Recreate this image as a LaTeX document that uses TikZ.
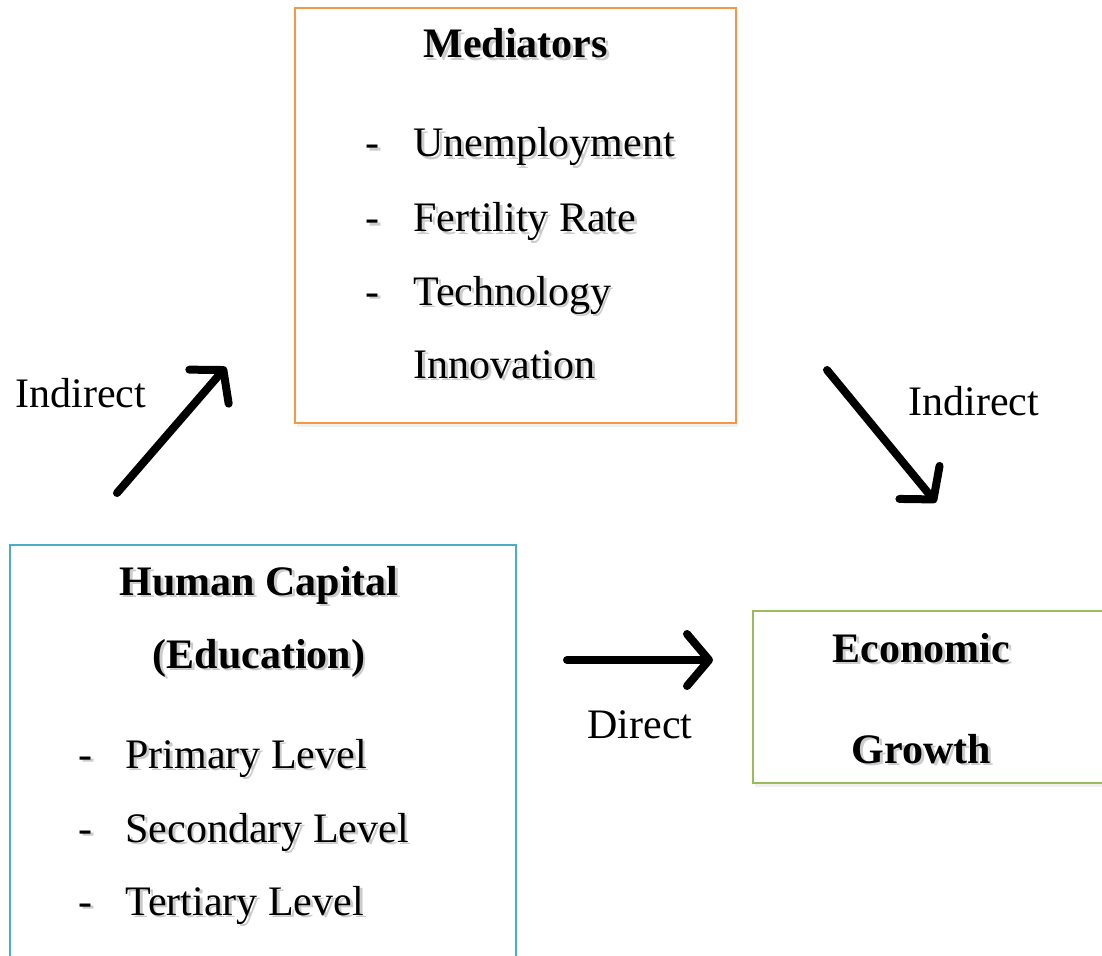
\documentclass[tikz,border=0pt]{standalone}
\usepackage{fontspec}
\setmainfont{Liberation Serif}
\usetikzlibrary{arrows.meta,shadows}
\definecolor{boxorange}{HTML}{F79646}
\definecolor{boxblue}{HTML}{4BACC6}
\definecolor{boxgreen}{HTML}{9BBB59}
\newcommand\shtxt[1]{\makebox[0pt][l]{\hspace{1.4pt}\raisebox{-1.4pt}{\color{black!20}#1}}#1}
\tikzset{
  box/.style={rectangle,line width=1.1pt,fill=white,inner sep=0pt,
    drop shadow={opacity=0.12,shadow xshift=0.8pt,shadow yshift=-1.8pt}},
  txt/.style={inner sep=0pt,font=\fontsize{21}{25}\selectfont},
  effect/.style={line width=4pt,line cap=round,line join=round,
    -{Straight Barb[length=11pt,width=26pt,line cap=round,line join=round]}}
}
\begin{document}
\begin{tikzpicture}
  [x=25pt,y=25pt]
  \useasboundingbox (0,0) rectangle (22.04,19.1);
  \node[box,draw=boxorange,minimum width=220.5pt,minimum height=207.5pt] (med) at (10.31,14.79) {};
  \node[box,draw=boxblue,minimum width=253pt,minimum height=220pt] (hc) at (5.26,3.8) {};
  \node[box,draw=boxgreen,minimum width=183.5pt,minimum height=86pt] (eg) at (18.73,5.16) {};

  \node[txt,anchor=base] (medtitle) at (10.31,17.94) {\shtxt{\textbf{Mediators}}};
  \foreach \y/\name/\label in {15.96/unemp/Unemployment,14.46/fert/Fertility Rate,13.0/tech/Technology}{
    \node[txt,anchor=base west] (\name dash) at (7.30,\y) {\shtxt{-}};
    \node[txt,anchor=base west] (\name) at (8.26,\y) {\shtxt{\label}};
  }
  \node[txt,anchor=base west] (innov) at (8.26,11.54) {\shtxt{Innovation}};

  \node[txt,anchor=base] (hctitle) at (5.18,7.2) {\shtxt{\textbf{Human Capital}}};
  \node[txt,anchor=base] (hcsub) at (5.18,5.74) {\shtxt{\textbf{(Education)}}};
  \foreach \y/\name/\label in {3.74/prim/Primary Level,2.26/sec/Secondary Level,0.8/tert/Tertiary Level}{
    \node[txt,anchor=base west] (\name dash) at (1.56,\y) {\shtxt{-}};
    \node[txt,anchor=base west] (\name) at (2.5,\y) {\shtxt{\label}};
  }

  \node[txt,anchor=base] (egtop) at (18.43,5.86) {\shtxt{\textbf{Economic}}};
  \node[txt,anchor=base] (egbot) at (18.43,3.84) {\shtxt{\textbf{Growth}}};

  \node[txt,anchor=base west] (indleft) at (0.3,10.96) {Indirect};
  \node[txt,anchor=base west] (indright) at (18.16,10.8) {Indirect};
  \node[txt,anchor=base west] (direct) at (11.74,4.34) {Direct};

  \coordinate (a1) at (2.34,9.24);
  \coordinate (b1) at (4.52,11.76);
  \coordinate (a2) at (16.54,11.7);
  \coordinate (b2) at (18.72,9.05);
  \coordinate (a3) at (11.34,5.9);
  \coordinate (b3) at (14.26,5.9);
  \foreach \from/\to in {a1/b1,a2/b2,a3/b3}
    \draw[effect] (\from) -- (\to);
\end{tikzpicture}
\end{document}
